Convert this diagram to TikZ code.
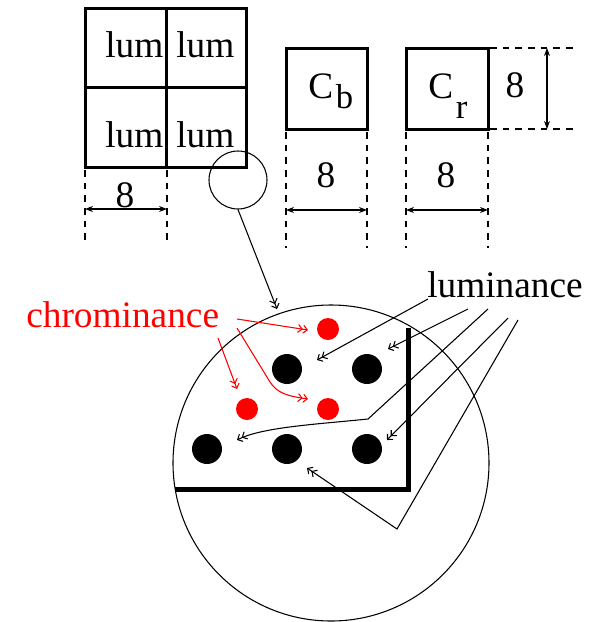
\documentclass[tikz,border=0pt]{standalone}
\usepackage{fontspec}
\setmainfont{Liberation Serif}
\usetikzlibrary{arrows.meta}
\begin{document}
\begin{tikzpicture}[x=0.75pt,y=-0.75pt,
  box/.style={draw,line width=2.25pt},
  lbl/.style={inner sep=0pt,font=\fontsize{28}{30}\selectfont},
  dimline/.style={dash pattern=on 5pt off 4.5pt,line width=0.8pt},
  dimarrow/.style={line width=0.8pt,{Stealth[length=6pt,width=4.5pt]}-{Stealth[length=6pt,width=4.5pt]}},
  ptr/.style={line width=0.8pt,-{Straight Barb[length=3pt,width=6pt]Straight Barb[length=3pt,width=6pt]}},
  bdot/.style={circle,fill=black,inner sep=0pt,minimum size=22.5pt},
  rdot/.style={circle,fill=red,inner sep=0pt,minimum size=16.5pt},
]
\useasboundingbox (0,0) rectangle (597,622);

% ---- luminance block
\draw[box] (85,8) rectangle (246,167);
\draw[box] (166,8) -- (166,167);
\draw[box] (85,87) -- (246,87);
\node[lbl,anchor=base west] (l1) at (105,57) {lum};
\node[lbl,anchor=base west] (l2) at (176,57) {lum};
\node[lbl,anchor=base west] (l3) at (105,147) {lum};
\node[lbl,anchor=base west] (l4) at (176,147) {lum};

% ---- Cb / Cr blocks
\draw[box] (286,48) rectangle (367,129);
\draw[box] (406,48) rectangle (488,129);
\node[lbl,anchor=base west] (cb) at (308,98) {C\hspace{2pt}\raisebox{-7.5pt}{\fontsize{26}{28}\selectfont b}};
\node[lbl,anchor=base west] (cr) at (428,98) {C\hspace{2pt}\raisebox{-15pt}{\fontsize{26}{28}\selectfont r}};

% ---- dimension lines
\coordinate (la1) at (85,170);  \coordinate (la2) at (85,240);
\coordinate (lb1) at (167,170); \coordinate (lb2) at (167,240);
\draw[dimline] (la1) -- (la2);
\draw[dimline] (lb1) -- (lb2);
\coordinate (ld1) at (85,209); \coordinate (ld2) at (167,209);
\draw[dimarrow] (ld1) -- (ld2);
\node[lbl,anchor=base] (n1) at (125,207) {8};

\coordinate (ba1) at (286,132); \coordinate (ba2) at (286,248);
\coordinate (bb1) at (367,132); \coordinate (bb2) at (367,248);
\draw[dimline] (ba1) -- (ba2);
\draw[dimline] (bb1) -- (bb2);
\coordinate (bd1) at (286,210); \coordinate (bd2) at (367,210);
\draw[dimarrow] (bd1) -- (bd2);
\node[lbl,anchor=base] (n2) at (326,187) {8};

\coordinate (ra1) at (406,132); \coordinate (ra2) at (406,248);
\coordinate (rb1) at (488,132); \coordinate (rb2) at (488,248);
\draw[dimline] (ra1) -- (ra2);
\draw[dimline] (rb1) -- (rb2);
\coordinate (rd1) at (406,210); \coordinate (rd2) at (488,210);
\draw[dimarrow] (rd1) -- (rd2);
\node[lbl,anchor=base] (n3) at (446,187) {8};

\coordinate (ha1) at (490,48);  \coordinate (ha2) at (575,48);
\coordinate (hb1) at (490,129); \coordinate (hb2) at (575,129);
\draw[dimline] (ha1) -- (ha2);
\draw[dimline] (hb1) -- (hb2);
\coordinate (vd1) at (547,48); \coordinate (vd2) at (547,129);
\draw[dimarrow] (vd1) -- (vd2);
\node[lbl,anchor=base] (n4) at (515,97) {8};

% ---- magnifier
\node[draw,circle,line width=0.8pt,minimum size=43.5pt,inner sep=0pt] (small) at (238,180) {};
\node[draw,circle,line width=0.8pt,minimum size=237pt,inner sep=0pt] (big) at (331,463) {};
\coordinate (bigtip) at (277,309);
\draw[ptr] (small.south) -- (bigtip);

% ---- thick corner
\draw[line width=3.75pt] (408,328) |- (175,489);

% ---- dots
\node[bdot] (d1) at (287,369) {};
\node[bdot] (d2) at (367,369) {};
\node[bdot] (d3) at (207,449) {};
\node[bdot] (d4) at (287,449) {};
\node[bdot] (d5) at (367,449) {};
\node[rdot] (r1) at (328,329) {};
\node[rdot] (r2) at (247,409) {};
\node[rdot] (r3) at (328,409) {};

% ---- labels
\node[lbl,anchor=base west,text=red] (chrom) at (26,327) {chrominance};
\node[lbl,anchor=base west] (lumin) at (427,297) {luminance};

% ---- chrominance pointers
\coordinate (ca) at (237,319); \coordinate (cat) at (308,330);
\coordinate (cb0) at (218,338); \coordinate (cbt) at (237,389);
\coordinate (cc) at (237,328); \coordinate (cct) at (308,399);
\draw[ptr,red] (ca) -- (cat);
\draw[ptr,red] (cb0) -- (cbt);
\draw[ptr,red] (cc) -- (270,382) .. controls (277,393) and (287,396) .. (cct);

% ---- luminance pointers
\coordinate (s1) at (428,299); \coordinate (t1) at (317,360);
\coordinate (s2) at (468,309); \coordinate (t2) at (388,349);
\coordinate (s3) at (488,309); \coordinate (t3) at (237,440);
\coordinate (s4) at (508,318); \coordinate (t4) at (387,440);
\coordinate (s5) at (518,320); \coordinate (t5) at (307,468);
\draw[ptr] (s1) -- (t1);
\draw[ptr] (s2) -- (t2);
\draw[ptr] (s3) -- (368,419) .. controls (320,424) and (262,427) .. (t3);
\draw[ptr] (s4) -- (t4);
\draw[ptr] (s5) -- (397,529) -- (t5);
\end{tikzpicture}
\end{document}
